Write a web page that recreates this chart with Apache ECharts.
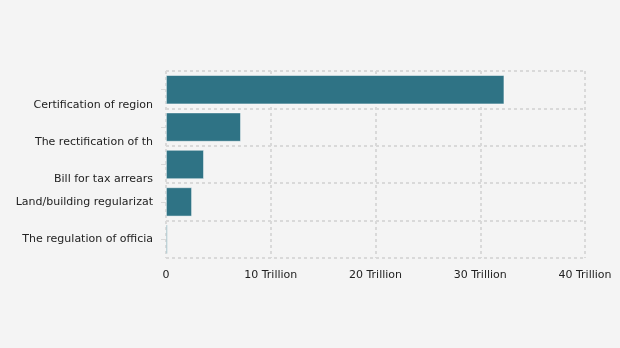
<!DOCTYPE html>
<html>
<head>
<meta charset="utf-8">
<script src="https://cdn.jsdelivr.net/npm/echarts@6/dist/echarts.min.js"></script>
<style>
html,body{margin:0;padding:0;background:#f4f4f4;}
#chart{width:620px;height:348px;}
</style>
</head>
<body>
<div id="chart"></div>
<script>
const categories = [
  "Certification of region",
  "The rectification of th",
  "Bill for tax arrears",
  "Land/building regularizat",
  "The regulation of officia"
];
const values = [32.3e12, 7.15e12, 3.62e12, 2.48e12, 0.15e12];
const xTicks = [0, 10e12, 20e12, 30e12, 40e12];

const chart = echarts.init(document.getElementById('chart'), null, {renderer: 'canvas'});
const gridColor = '#d9d9d9';
chart.setOption({
  backgroundColor: '#f4f4f4',
  animation: false,
  grid: {left: 166, right: 35, top: 71, bottom: 90},
  xAxis: {
    type: 'value',
    min: xTicks[0],
    max: xTicks[xTicks.length - 1],
    interval: xTicks[1] - xTicks[0],
    axisLine: {show: false},
    axisTick: {show: false},
    axisLabel: {
      margin: 12,
      color: '#222',
      fontFamily: 'DejaVu Sans',
      fontSize: 11,
      formatter: v => v === 0 ? '0' : (v / 1e12) + ' Trillion'
    },
    splitLine: {show: true, lineStyle: {color: gridColor, width: 2, type: [3, 3]}}
  },
  yAxis: {
    type: 'category',
    inverse: true,
    data: categories,
    axisLine: {show: false},
    axisTick: {show: true, alignWithLabel: true, length: 5, lineStyle: {color: gridColor, width: 1}},
    axisLabel: {
      interval: 0,
      margin: 13,
      color: '#222',
      fontFamily: 'DejaVu Sans',
      fontSize: 11,
      lineHeight: 15,
      formatter: (v, i) => (i < 3 ? '\n\n' : '') + v
    },
    splitLine: {show: true, lineStyle: {color: gridColor, width: 2, type: [3, 3]}}
  },
  series: [{
    type: 'bar',
    data: values,
    barCategoryGap: '22%',
    itemStyle: {color: '#2f7385', borderColor: 'rgba(255,255,255,0.6)', borderWidth: 0.8}
  }]
});
</script>
</body>
</html>
